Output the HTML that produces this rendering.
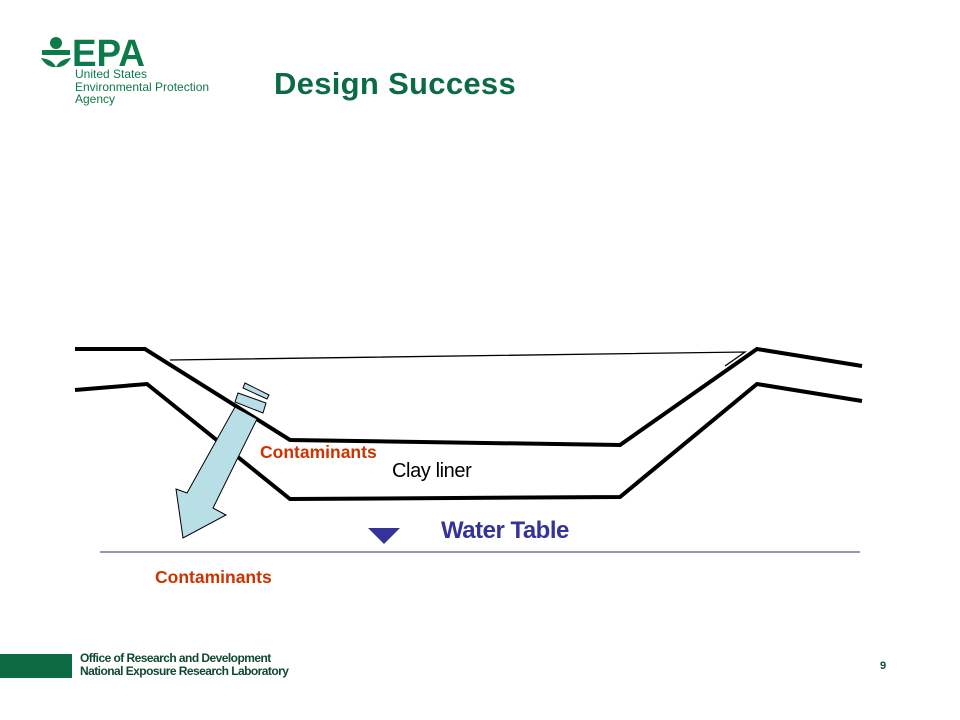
<!DOCTYPE html>
<html><head><meta charset="utf-8"><style>
body{margin:0;width:960px;height:720px;background:#fff;position:relative;overflow:hidden;font-family:"Liberation Sans",sans-serif}
.t{position:absolute;white-space:nowrap}
</style></head><body>
<svg width="960" height="720" style="position:absolute;left:0;top:0">
<g fill="#0d7a4a">
<circle cx="56" cy="43" r="6"/>
<path d="M42 50 h28 v5 h-28z"/>
<path d="M41 58 q6 10 15 9 q-4 -8 -15 -9z"/>
<path d="M71 58 q-6 10 -15 9 q4 -8 15 -9z"/>
</g>
<text x="72" y="66" font-family="Liberation Sans" font-weight="bold" font-size="38" fill="#0d7a4a" textLength="73" lengthAdjust="spacingAndGlyphs">EPA</text>
<path d="M75 349 L145 349 L290 440 L620 445 L757 349 L862 366" fill="none" stroke="#000" stroke-width="4"/>
<path d="M75 390 L147 384 L290 499 L620 497 L757 384 L862 401" fill="none" stroke="#000" stroke-width="4"/>
<path d="M170 360 L745 352 L725 366" fill="none" stroke="#000" stroke-width="1.3"/>
<line x1="100" y1="552" x2="860" y2="552" stroke="#333366" stroke-width="1"/>
<polygon points="368,528 400,528 384,544" fill="#333399"/>
<polygon points="235,407 257,419 213,508 226,515 183,538 176,489 187,493" fill="#b8dfe6" stroke="#000" stroke-width="1"/>
<polygon points="238,393 266,403 263,413 235,402" fill="#b8dfe6" stroke="#000" stroke-width="1"/>
<polygon points="245,383 269,395 267,399 243,388" fill="#b8dfe6" stroke="#000" stroke-width="1"/>
<rect x="0" y="654" width="72" height="24" fill="#0d6b44"/>
</svg>
<div class="t" style="left:75px;top:68px;font-size:12px;line-height:12.5px;color:#0d7a4a">United States<br>Environmental Protection<br>Agency</div>
<div class="t" style="left:274px;top:66px;font-size:31px;font-weight:bold;color:#0d6b44;letter-spacing:0.3px">Design Success</div>
<div class="t" style="left:260px;top:442px;font-size:17.5px;font-weight:bold;color:#cc3300">Contaminants</div>
<div class="t" style="left:155px;top:567px;font-size:17.5px;font-weight:bold;color:#cc3300">Contaminants</div>
<div class="t" style="left:392px;top:460px;font-size:20px;color:#000;letter-spacing:-0.4px">Clay liner</div>
<div class="t" style="left:441px;top:517px;font-size:24px;font-weight:bold;color:#333399;letter-spacing:-0.5px">Water Table</div>
<div class="t" style="left:80px;top:652px;font-size:12px;line-height:13px;font-weight:bold;color:#0d4a30;letter-spacing:-0.55px">Office of Research and Development<br>National Exposure Research Laboratory</div>
<div class="t" style="left:880px;top:660px;font-size:11px;font-weight:bold;color:#0d4a30">9</div>
</body></html>
